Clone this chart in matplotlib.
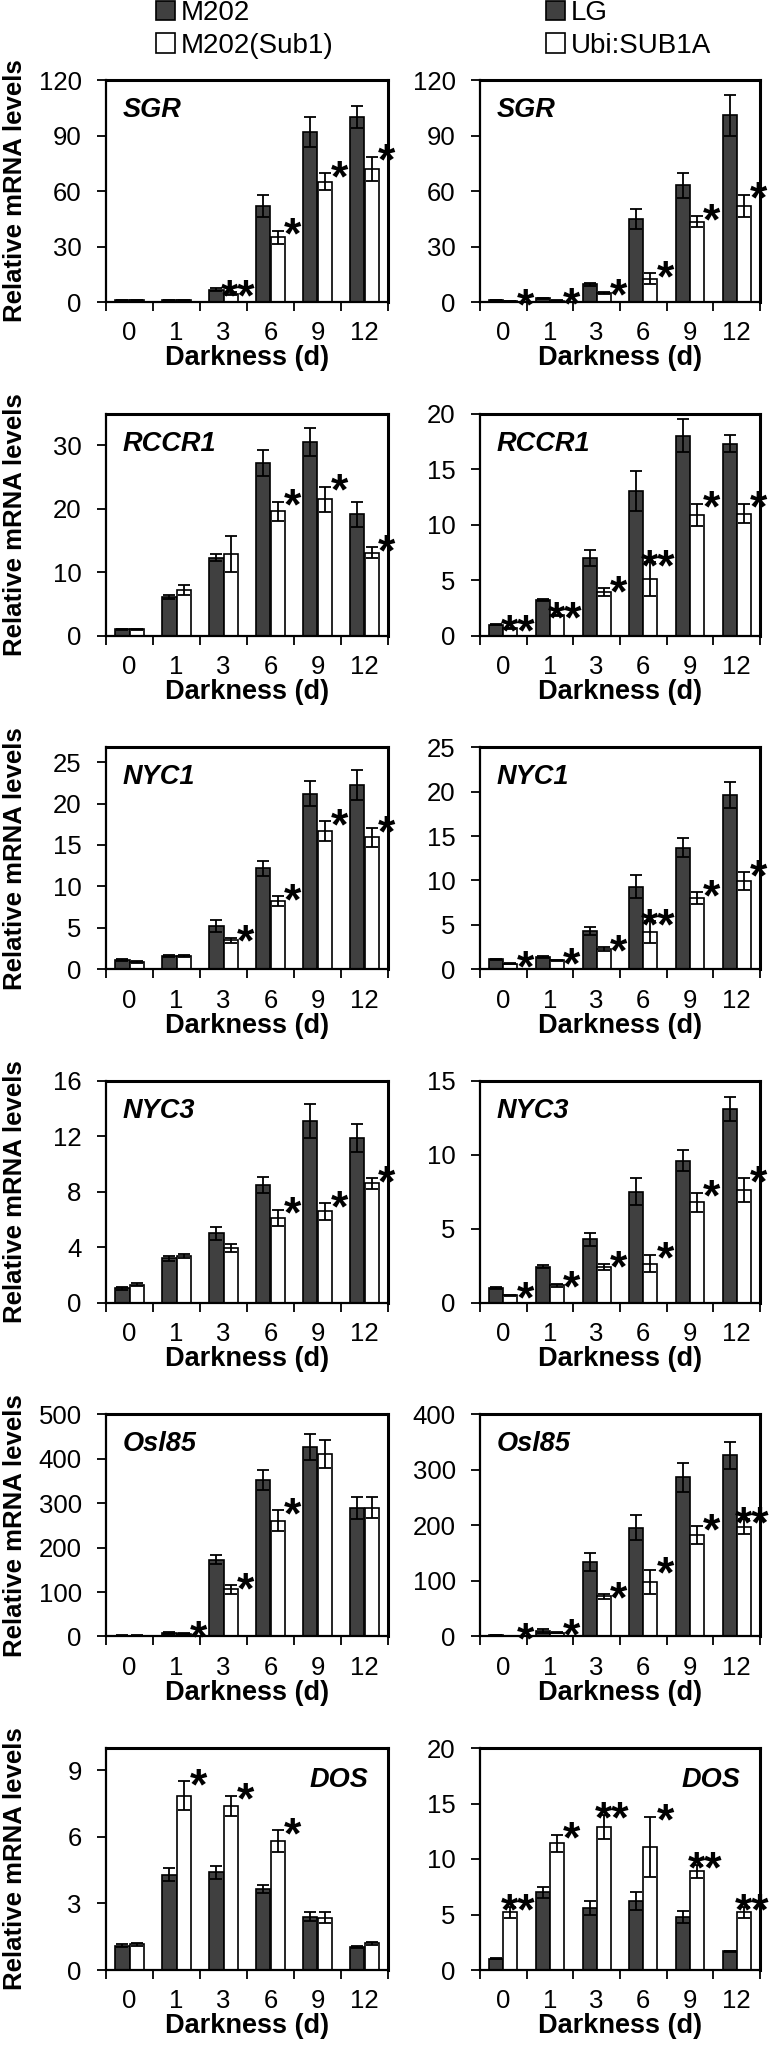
import numpy as np
import matplotlib
matplotlib.use('Agg')
import matplotlib.pyplot as plt
from matplotlib.patches import Patch

plt.rcParams['font.family'] = ['Liberation Sans', 'DejaVu Sans']

# Darkness days (categories)
days = ['0', '1', '3', '6', '9', '12']

# left column: M202 vs M202(Sub1)
left_names = ['M202', 'M202(Sub1)']
# right column: LG vs Ubi:SUB1A
right_names = ['LG', 'Ubi:SUB1A']

genes = ['SGR', 'RCCR1', 'NYC1', 'NYC3', 'OsI85', 'DOS']
gene_labels = ['SGR', 'RCCR1', 'NYC1', 'NYC3', 'Osl85', 'DOS']

# ---- left column values ----
l_ymax = [120, 35, 26.8, 16, 500, 10]
l_ticks = [[0, 30, 60, 90, 120], [0, 10, 20, 30], [0, 5, 10, 15, 20, 25],
           [0, 4, 8, 12, 16], [0, 100, 200, 300, 400, 500], [0, 3, 6, 9]]
l_dark = [[1.0, 1.0, 6.5, 52, 92, 100],
          [1.0, 6.1, 12.3, 27.2, 30.5, 19.1],
          [1.1, 1.6, 5.2, 12.2, 21.2, 22.2],
          [1.05, 3.2, 5.0, 8.5, 13.1, 11.9],
          [2, 8, 173, 352, 426, 289],
          [1.1, 4.3, 4.4, 3.65, 2.4, 1.05]]
l_dark_err = [[0.2, 0.2, 0.8, 6, 8, 6],
              [0.1, 0.3, 0.6, 2.0, 2.2, 1.9],
              [0.1, 0.1, 0.7, 0.9, 1.5, 1.8],
              [0.1, 0.2, 0.45, 0.6, 1.2, 1.0],
              [0.5, 2, 10, 23, 29, 24],
              [0.05, 0.3, 0.3, 0.2, 0.2, 0.05]]
l_white = [[1.0, 1.0, 4.5, 35, 65, 72],
           [1.0, 7.2, 12.9, 19.6, 21.5, 13.1],
           [0.9, 1.6, 3.5, 8.2, 16.7, 15.9],
           [1.3, 3.4, 3.95, 6.1, 6.6, 8.6],
           [2, 6, 106, 261, 411, 290],
           [1.15, 7.85, 7.4, 5.8, 2.35, 1.2]]
l_white_err = [[0.2, 0.2, 0.8, 3.5, 4.5, 6.5],
               [0.1, 0.8, 2.8, 1.5, 2.0, 0.8],
               [0.1, 0.1, 0.3, 0.6, 1.2, 1.1],
               [0.1, 0.15, 0.3, 0.6, 0.6, 0.4],
               [0.5, 1.5, 10, 23, 31, 24],
               [0.05, 0.65, 0.45, 0.5, 0.25, 0.07]]
l_stars = [['', '', '**', '*', '*', '*'],
           ['', '', '', '*', '*', '*'],
           ['', '', '*', '*', '*', '*'],
           ['', '', '', '*', '*', '*'],
           ['', '*', '*', '*', '', ''],
           ['', '*', '*', '*', '', '']]

# ---- right column values ----
r_ymax = [120, 20, 25, 15, 400, 20]
r_ticks = [[0, 30, 60, 90, 120], [0, 5, 10, 15, 20], [0, 5, 10, 15, 20, 25],
           [0, 5, 10, 15], [0, 100, 200, 300, 400], [0, 5, 10, 15, 20]]
r_dark = [[1.0, 2.0, 9.5, 45, 63, 101],
          [1.0, 3.2, 7.0, 13.0, 18.0, 17.3],
          [1.1, 1.4, 4.3, 9.3, 13.7, 19.6],
          [1.0, 2.45, 4.3, 7.5, 9.6, 13.1],
          [2, 10, 134, 196, 287, 326],
          [1.0, 7.0, 5.6, 6.2, 4.8, 1.7]]
r_dark_err = [[0.1, 0.2, 0.8, 5.5, 7, 11],
              [0.05, 0.1, 0.7, 1.8, 1.5, 0.8],
              [0.05, 0.1, 0.4, 1.3, 1.1, 1.5],
              [0.05, 0.1, 0.45, 0.9, 0.7, 0.8],
              [0.5, 3, 16, 23, 26, 24],
              [0.05, 0.5, 0.6, 0.8, 0.55, 0.05]]
r_white = [[0.3, 0.8, 5.0, 12.5, 43.5, 52],
           [0.65, 1.85, 3.9, 5.1, 10.9, 11.0],
           [0.6, 1.0, 2.3, 4.2, 8.0, 9.9],
           [0.5, 1.2, 2.45, 2.65, 6.8, 7.6],
           [1, 7, 72, 98, 183, 198],
           [5.2, 11.4, 12.9, 11.1, 8.9, 5.2]]
r_white_err = [[0.1, 0.1, 0.6, 3, 3, 6],
               [0.05, 0.05, 0.35, 1.5, 1.0, 0.9],
               [0.05, 0.05, 0.2, 1.2, 0.7, 1.0],
               [0.05, 0.1, 0.2, 0.6, 0.65, 0.8],
               [0.3, 1.5, 4, 22, 16, 13],
               [0.5, 0.8, 1.1, 2.7, 0.6, 0.5]]
r_stars = [['*', '*', '*', '*', '*', '*'],
           ['**', '**', '*', '**', '*', '*'],
           ['*', '*', '*', '**', '*', '*'],
           ['*', '*', '*', '*', '*', '*'],
           ['*', '*', '*', '*', '*', '**'],
           ['**', '*', '**', '*', '**', '**']]

W, H = 772, 2058
DARK = '#404040'
fig = plt.figure(figsize=(W / 100, H / 100), dpi=100)


def panel(x0, x1, top, bottom, gene, ymax, ticks, dark, dark_err, white, white_err, stars, right_label=False):
    ax = fig.add_axes([x0 / W, 1 - bottom / H, (x1 - x0) / W, (bottom - top) / H])
    x = np.arange(len(days))
    w = 0.3
    ax.bar(x - w / 2, dark, w, color=DARK, edgecolor='black', linewidth=1.2, zorder=2)
    ax.bar(x + w / 2, white, w, color='white', edgecolor='black', linewidth=1.2, zorder=2)
    ax.errorbar(x - w / 2, dark, yerr=dark_err, fmt='none', ecolor='black',
                elinewidth=1.3, capsize=4.5, capthick=1.3, zorder=3)
    ax.errorbar(x + w / 2, white, yerr=white_err, fmt='none', ecolor='black',
                elinewidth=1.3, capsize=4.5, capthick=1.3, zorder=3)
    for i, s in enumerate(stars):
        if not s:
            continue
        xs = x[i] + w + (0.02 if len(s) == 2 else 0.17)
        ax.annotate(s, (xs, white[i] + white_err[i]), xytext=(0, -13), textcoords='offset points',
                    ha='center', va='baseline', fontsize=32, fontweight='bold', zorder=4,
                    annotation_clip=False)
    ax.set_xlim(-0.5, 5.5)
    ax.set_ylim(0, ymax)
    ax.set_yticks(ticks)
    ax.set_xticks(np.arange(-0.5, 6, 1))
    ax.set_xticklabels([])
    ax.set_xticks(x, minor=True)
    ax.set_xticklabels(days, minor=True)
    ax.tick_params(axis='x', which='major', length=6.5, width=1.3, direction='out')
    ax.tick_params(axis='x', which='minor', length=0, pad=14, labelsize=18.5)
    ax.tick_params(axis='y', length=6.5, width=1.3, direction='out', pad=11, labelsize=18.5)
    for side in ['top', 'right']:
        ax.spines[side].set_linewidth(2.2)
    ax.spines['left'].set_linewidth(1.6)
    ax.spines['bottom'].set_linewidth(1.6)
    ax.set_xlabel('Darkness (d)', fontsize=19.5, fontweight='bold', labelpad=0)
    if right_label:
        ax.text(0.93, 0.855, gene, transform=ax.transAxes, ha='right', va='center',
                fontsize=19.5, fontweight='bold', fontstyle='italic')
    else:
        ax.text(0.06, 0.865, gene, transform=ax.transAxes, ha='left', va='center',
                fontsize=19.5, fontweight='bold', fontstyle='italic')
    return ax


pitch = 333.6
for r in range(6):
    top = 80 + pitch * r
    bottom = 302 + pitch * r
    is_dos = genes[r] == 'DOS'
    panel(106, 388, top, bottom, gene_labels[r], l_ymax[r], l_ticks[r], l_dark[r], l_dark_err[r],
          l_white[r], l_white_err[r], l_stars[r], right_label=is_dos)
    panel(480, 760, top, bottom, gene_labels[r], r_ymax[r], r_ticks[r], r_dark[r], r_dark_err[r],
          r_white[r], r_white_err[r], r_stars[r], right_label=is_dos)
    fig.text(15 / W, 1 - (top + bottom) / 2 / H, 'Relative mRNA levels', rotation=90,
             ha='center', va='center', fontsize=18.5, fontweight='bold')

# legends built from patches
for names, xl in [(left_names, 156), (right_names, 546)]:
    handles = [Patch(facecolor=DARK, edgecolor='black', linewidth=1.2),
               Patch(facecolor='white', edgecolor='black', linewidth=1.2)]
    fig.legend(handles, names, loc='upper left', bbox_to_anchor=(xl / W, 1 - 0 / H),
               frameon=False, fontsize=20, handlelength=0.7, handleheight=0.7,
               handletextpad=0.2, labelspacing=0.25, borderpad=0, borderaxespad=0)

fig.savefig('out.png', dpi=100)
